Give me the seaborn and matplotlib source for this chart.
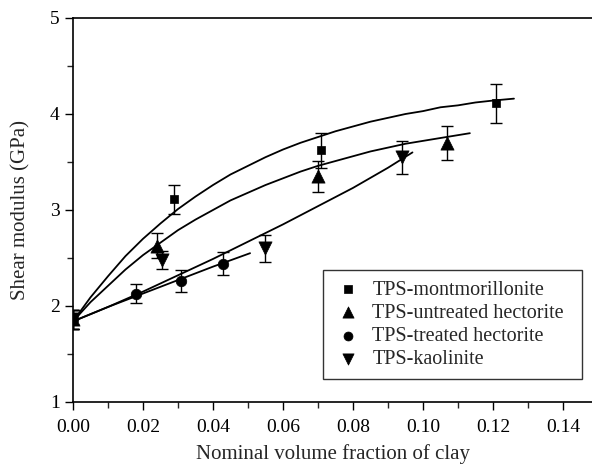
import matplotlib
matplotlib.use("Agg")
import matplotlib.pyplot as plt
import seaborn as sns
import pandas as pd
from matplotlib.ticker import MultipleLocator

# ---- measured data ----
series_names = ["TPS-montmorillonite", "TPS-untreated hectorite",
                "TPS-treated hectorite", "TPS-kaolinite"]
markers = ["s", "^", "o", "v"]

mont_x = [0.0, 0.029, 0.071, 0.121]
mont_y = [1.86, 3.11, 3.62, 4.11]
mont_err = [0.10, 0.15, 0.18, 0.20]

unt_x = [0.0, 0.024, 0.070, 0.107]
unt_y = [1.86, 2.63, 3.35, 3.70]
unt_err = [0.10, 0.13, 0.16, 0.18]

trt_x = [0.0, 0.018, 0.031, 0.043]
trt_y = [1.86, 2.13, 2.26, 2.44]
trt_err = [0.10, 0.10, 0.11, 0.12]

kao_x = [0.0, 0.0255, 0.055, 0.094]
kao_y = [1.86, 2.48, 2.60, 3.55]
kao_err = [0.10, 0.09, 0.14, 0.17]

# ---- fitted curves ----
mont_fit_x = [0.0, 0.005, 0.01, 0.015, 0.02, 0.025, 0.03, 0.035, 0.04, 0.045, 0.05,
              0.055, 0.06, 0.065, 0.07, 0.075, 0.08, 0.085, 0.09, 0.095, 0.10,
              0.105, 0.11, 0.115, 0.12, 0.126]
mont_fit_y = [1.84, 2.09, 2.31, 2.52, 2.70, 2.86, 3.01, 3.14, 3.26, 3.37, 3.46,
              3.55, 3.63, 3.70, 3.76, 3.82, 3.87, 3.92, 3.96, 4.00, 4.03,
              4.07, 4.09, 4.12, 4.14, 4.16]

unt_fit_x = [0.0, 0.005, 0.01, 0.015, 0.02, 0.025, 0.03, 0.035, 0.04, 0.045, 0.05,
             0.055, 0.06, 0.065, 0.07, 0.075, 0.08, 0.085, 0.09, 0.095, 0.10,
             0.105, 0.1134]
unt_fit_y = [1.84, 2.04, 2.21, 2.38, 2.53, 2.66, 2.79, 2.90, 3.00, 3.10, 3.18,
             3.26, 3.33, 3.40, 3.46, 3.51, 3.56, 3.61, 3.65, 3.69, 3.72,
             3.75, 3.80]

trt_fit_x = [0.0, 0.01, 0.02, 0.03, 0.04, 0.0506]
trt_fit_y = [1.84, 1.99, 2.13, 2.27, 2.41, 2.55]

kao_fit_x = [0.0, 0.01, 0.02, 0.03, 0.04, 0.05, 0.06, 0.07, 0.08, 0.09, 0.097]
kao_fit_y = [1.84, 1.99, 2.15, 2.32, 2.49, 2.67, 2.85, 3.04, 3.23, 3.44, 3.60]

x_label = "Nominal volume fraction of clay"
y_label = "Shear modulus (GPa)"

# ---- plotting ----
sns.set_style("ticks")
plt.rcParams["font.family"] = ["Liberation Serif", "DejaVu Serif"]

fig = plt.figure(figsize=(5.92, 4.72), dpi=100)
ax = fig.add_axes([73 / 592, 70 / 472, 519 / 592, 384 / 472])

data_sets = [
    (mont_x, mont_y, mont_err, mont_fit_x, mont_fit_y, 6.5),
    (unt_x, unt_y, unt_err, unt_fit_x, unt_fit_y, 10),
    (trt_x, trt_y, trt_err, trt_fit_x, trt_fit_y, 8),
    (kao_x, kao_y, kao_err, kao_fit_x, kao_fit_y, 10),
]

for name, mk, (xs, ys, es, fx, fy, ms) in zip(series_names, markers, data_sets):
    fit_df = pd.DataFrame({"x": fx, "y": fy})
    sns.lineplot(data=fit_df, x="x", y="y", ax=ax, color="black", lw=1.3,
                 sort=True, estimator=None, legend=False)
    ax.errorbar(xs, ys, yerr=es, fmt="none", ecolor="black", elinewidth=1.0,
                capsize=4, capthick=1.0, zorder=3)
    pts = pd.DataFrame({"x": xs, "y": ys})
    sns.scatterplot(data=pts, x="x", y="y", ax=ax, marker=mk, s=ms ** 2 * 0.9,
                    color="black", edgecolor="black", linewidth=0.5, zorder=4,
                    label=name)

ax.set_xlim(0, 0.1483)
ax.set_ylim(1, 5)
ax.xaxis.set_major_locator(MultipleLocator(0.02))
ax.xaxis.set_minor_locator(MultipleLocator(0.01))
ax.yaxis.set_major_locator(MultipleLocator(1))
ax.yaxis.set_minor_locator(MultipleLocator(0.5))
ax.set_xticklabels([f"{v:.2f}" for v in ax.get_xticks()])
ax.tick_params(axis="both", which="major", direction="out", length=6, width=1,
               labelsize=14, colors="black")
ax.tick_params(axis="both", which="minor", direction="out", length=4, width=1)
ax.tick_params(axis="x", pad=6)

for side in ["left", "bottom", "top"]:
    ax.spines[side].set_visible(True)
    ax.spines[side].set_linewidth(1.2)
    ax.spines[side].set_color("black")
ax.spines["right"].set_visible(False)

ax.set_xlabel(x_label, fontsize=15, labelpad=6)
ax.set_ylabel(y_label, fontsize=15, labelpad=14)

leg = ax.legend(loc="lower left",
                bbox_to_anchor=((323 - 73) / 519, (402 - 379) / 384,
                                (582 - 323) / 519, 0.25),
                mode="expand",
                borderaxespad=0, frameon=True, fancybox=False, fontsize=14.5,
                handletextpad=0.45, borderpad=0.5, labelspacing=0.2,
                handlelength=1.5, markerscale=0.85)
leg.get_frame().set_edgecolor("black")
leg.get_frame().set_linewidth(1.0)

fig.savefig("out.png", dpi=100)
